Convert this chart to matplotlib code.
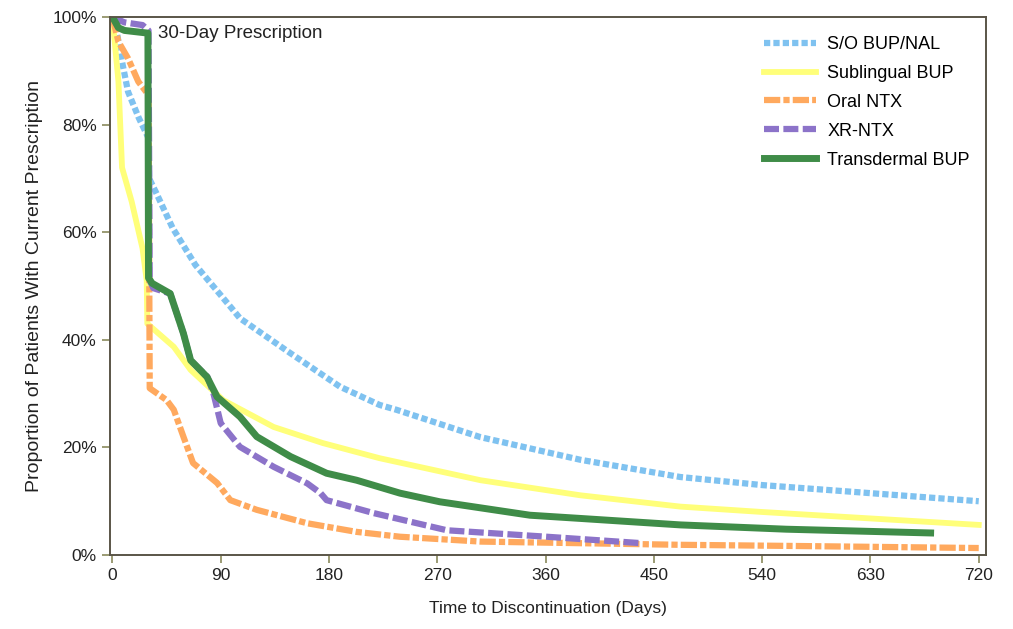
import matplotlib
matplotlib.use('Agg')
import matplotlib.pyplot as plt
from matplotlib.ticker import FuncFormatter

plt.rcParams['font.family'] = ['Liberation Sans', 'DejaVu Sans']

# survival curves (days, proportion still on prescription)
blue_days = [0, 3, 8, 13, 22, 30, 30.5, 36, 50, 69, 99, 106, 148, 189, 222, 236, 306, 389, 472, 540, 630, 720]
blue_vals = [1.0, 0.98, 0.917, 0.861, 0.812, 0.775, 0.70, 0.675, 0.608, 0.539, 0.459, 0.44, 0.375, 0.313,
             0.279, 0.27, 0.219, 0.177, 0.145, 0.13, 0.115, 0.10]

yellow_days = [0, 5, 8, 16, 25, 28.5, 29, 51, 65, 92, 134, 175, 222, 306, 389, 472, 540, 630, 720]
yellow_vals = [1.0, 0.88, 0.72, 0.657, 0.57, 0.51, 0.43, 0.387, 0.344, 0.288, 0.238, 0.208, 0.18,
               0.139, 0.111, 0.09, 0.08, 0.068, 0.056]

orange_days = [0, 5, 13, 21.5, 30, 31, 45, 51, 59, 67, 87, 98, 120, 162, 203, 239, 306, 389, 472, 560, 640, 720]
orange_vals = [1.0, 0.954, 0.923, 0.88, 0.855, 0.31, 0.288, 0.27, 0.22, 0.171, 0.134, 0.102, 0.084,
               0.059, 0.043, 0.034, 0.025, 0.022, 0.019, 0.017, 0.015, 0.013]

purple_days = [0, 10, 25, 30, 31, 34, 48, 59, 65, 79, 84, 90, 106, 134, 162, 173, 178, 217, 278, 361, 440]
purple_vals = [1.0, 0.99, 0.985, 0.975, 0.51, 0.496, 0.486, 0.412, 0.362, 0.331, 0.30, 0.245, 0.201,
               0.164, 0.133, 0.115, 0.102, 0.078, 0.046, 0.034, 0.022]

green_days = [0, 5, 10, 29.5, 30, 33, 48, 59, 65, 78.6, 87, 106, 120, 148, 178, 203, 239, 272, 347, 389, 472, 560, 680]
green_vals = [1.0, 0.98, 0.975, 0.97, 0.515, 0.505, 0.486, 0.412, 0.362, 0.331, 0.294, 0.257, 0.22,
              0.183, 0.152, 0.139, 0.115, 0.099, 0.074, 0.068, 0.056, 0.048, 0.041]

labels = ['S/O BUP/NAL', 'Sublingual BUP', 'Oral NTX', 'XR-NTX', 'Transdermal BUP']
x_ticks = [0, 90, 180, 270, 360, 450, 540, 630, 720]

fig = plt.figure(figsize=(10.13, 6.29), dpi=100)
ax = fig.add_axes([0.1086, 0.1176, 0.8647, 0.8554])

ax.plot(blue_days, blue_vals, color='#7fc2f0', lw=4.5, ls=(0, (1, 0.5)), label=labels[0])
ax.plot(yellow_days, yellow_vals, color='#ffff7a', lw=4.2, label=labels[1])
ax.plot(orange_days, orange_vals, color='#ffa95e', lw=4.5, ls=(0, (2.6, 0.5, 1, 0.5)), label=labels[2])
ax.plot(purple_days, purple_vals, color='#8c73c9', lw=4.5, ls=(0, (2.4, 0.7)), label=labels[3])
ax.plot(green_days, green_vals, color='#3f8c48', lw=5, label=labels[4])

ax.text(38, 0.97, '30-Day Prescription', fontsize=13.5, va='center', ha='left', color='#222222')

ax.set_xlim(-2, 726)
ax.set_ylim(0, 1.0)
ax.set_xticks(x_ticks)
ax.set_yticks([0, 0.2, 0.4, 0.6, 0.8, 1.0])
ax.yaxis.set_major_formatter(FuncFormatter(lambda v, p: f'{v * 100:.0f}%'))
ax.tick_params(direction='out', length=6, width=1.2, color='#8a8a5c', labelsize=12.5,
               labelcolor='#222222')
for s in ax.spines.values():
    s.set_color('#5a5548')
    s.set_linewidth(1.4)

ax.set_xlabel('Time to Discontinuation (Days)', fontsize=12.5, color='#222222', labelpad=13)
ax.set_ylabel('Proportion of Patients With Current Prescription', fontsize=14, color='#222222', labelpad=7)

ax.legend(loc='upper right', bbox_to_anchor=(1.0, 0.995), frameon=False, fontsize=13,
          handlelength=2.9, handletextpad=0.6, labelspacing=0.66)

fig.savefig('out.png', dpi=100)
